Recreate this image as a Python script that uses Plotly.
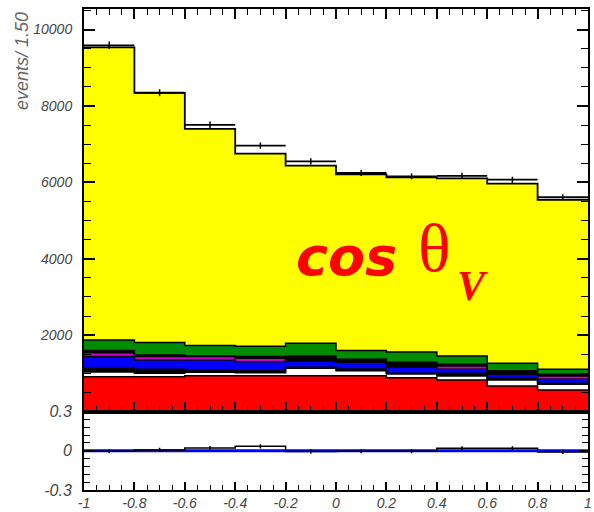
import plotly.graph_objects as go
import numpy as np

# ---- data ----
edges = [-1.0, -0.8, -0.6, -0.4, -0.2, 0.0, 0.2, 0.4, 0.6, 0.8, 1.0]
centers = [-0.9, -0.7, -0.5, -0.3, -0.1, 0.1, 0.3, 0.5, 0.7, 0.9]

red = [912, 912, 938, 938, 938, 938, 886, 826, 668, 564]
white = [123, 89, 89, 79, 195, 131, 97, 104, 158, 149]
black = [98, 105, 61, 52, 25, 45, 18, 71, 44, 26]
blue = [304, 244, 262, 236, 173, 176, 173, 105, 113, 105]
magenta = [104, 87, 87, 89, 0, 0, 0, 87, 0, 86]
dark = [53, 44, 18, 43, 124, 78, 116, 44, 86, 45]
green = [280, 323, 270, 271, 332, 226, 265, 218, 194, 131]
mc_total = [9530, 8340, 7400, 6750, 6435, 6210, 6130, 6105, 5964, 5544]

data = [9585, 8345, 7505, 6960, 6548, 6244, 6155, 6170, 6068, 5614]
data_err = [98, 91, 87, 83, 81, 79, 78, 78, 78, 75]

ratio = [-0.004, 0.006, 0.021, 0.034, -0.006, -0.004, -0.004, 0.019, 0.019, -0.009]
ratio_err = [0.016, 0.016, 0.016, 0.016, 0.016, 0.016, 0.016, 0.016, 0.016, 0.016]

main_yticks = [0, 2000, 4000, 6000, 8000, 10000]
main_ylabels = ["", "2000", "4000", "6000", "8000", "10000"]
low_yticks = [-0.3, 0.0, 0.3]
low_ylabels = ["-0.3", "0", "0.3"]
xticks = [-1, -0.8, -0.6, -0.4, -0.2, 0, 0.2, 0.4, 0.6, 0.8, 1]
xlabels = ["-1", "-0.8", "-0.6", "-0.4", "-0.2", "0", "0.2", "0.4", "0.6", "0.8", "1"]

layers = [
    ("red", red, "#FF0000"),
    ("white", white, "#FFFFFF"),
    ("black", black, "#000000"),
    ("blue", blue, "#0000FF"),
    ("magenta", magenta, "#CC00CC"),
    ("dark", dark, "#000000"),
    ("green", green, "#008C00"),
]

fig = go.Figure()

cum = np.zeros(len(red))
first = True
for name, vals, col in layers:
    cum = cum + np.array(vals, dtype=float)
    ys = list(cum) + [cum[-1]]
    fig.add_trace(go.Scatter(
        x=edges, y=ys, mode="lines", line=dict(shape="hv", color="black", width=1.5),
        fill="tozeroy" if first else "tonexty", fillcolor=col, name=name,
        showlegend=False, xaxis="x", yaxis="y"))
    first = False

# yellow: up to MC total
ys = list(mc_total) + [mc_total[-1]]
fig.add_trace(go.Scatter(
    x=edges, y=ys, mode="lines", line=dict(shape="hv", color="black", width=1.8),
    fill="tonexty", fillcolor="#FFFF00", showlegend=False, xaxis="x", yaxis="y"))

# data points
fig.add_trace(go.Scatter(
    x=centers, y=data, mode="markers", marker=dict(size=1, color="black"),
    error_x=dict(type="constant", value=0.1, width=0, thickness=1.8, color="black"),
    error_y=dict(type="data", array=data_err, width=0, thickness=1.5, color="black"),
    showlegend=False, xaxis="x", yaxis="y"))

# lower panel
fig.add_trace(go.Scatter(
    x=[-1, 1], y=[0, 0], mode="lines", line=dict(color="#0000FF", width=3),
    showlegend=False, xaxis="x2", yaxis="y2"))
fig.add_trace(go.Scatter(
    x=edges, y=list(ratio) + [ratio[-1]], mode="lines",
    line=dict(shape="hv", color="black", width=1.5),
    showlegend=False, xaxis="x2", yaxis="y2"))
fig.add_trace(go.Scatter(
    x=centers, y=ratio, mode="markers", marker=dict(size=1, color="black"),
    error_y=dict(type="data", array=ratio_err, width=0, thickness=1.5, color="black"),
    showlegend=False, xaxis="x2", yaxis="y2"))

split = (490 - 411.5) / 481.0
lab_font = dict(family="Liberation Sans", size=14, color="#444444", style="italic")
xlab_font = dict(family="Liberation Sans", size=16, color="#444444", style="italic")

fig.update_layout(
    width=594, height=512,
    margin=dict(l=84, r=6, t=9, b=22, autoexpand=False),
    paper_bgcolor="white", plot_bgcolor="white",
    xaxis=dict(domain=[0, 1], anchor="y", range=[-1, 1], tickvals=xticks,
               showticklabels=False, ticks="inside", ticklen=10, tickwidth=1.5,
               tickcolor="black", showline=True, linecolor="black", linewidth=2,
               mirror="allticks", showgrid=False, zeroline=False, automargin=False,
               minor=dict(dtick=0.05, tick0=-1, ticks="inside", ticklen=6,
                          tickwidth=1.2, tickcolor="black", showgrid=False)),
    yaxis=dict(domain=[split, 1], anchor="x", range=[0, 10537],
               tickvals=main_yticks, ticktext=main_ylabels, tickfont=lab_font,
               ticks="inside", ticklen=11, tickwidth=1.5, tickcolor="black",
               showline=True, linecolor="black", linewidth=2, mirror="allticks",
               showgrid=False, zeroline=False, automargin=False, ticklabelstandoff=7,
               minor=dict(dtick=500, tick0=0, ticks="inside", ticklen=7,
                          tickwidth=1.2, tickcolor="black", showgrid=False)),
    xaxis2=dict(domain=[0, 1], anchor="y2", range=[-1, 1], tickvals=xticks,
                ticktext=xlabels, tickfont=dict(family="Liberation Sans", size=14,
                                                color="#444444", style="italic"),
                ticks="inside", ticklen=8,
                tickwidth=1.5, tickcolor="black", showline=True, linecolor="black",
                linewidth=2, mirror=True, showgrid=False, zeroline=False,
                automargin=False, ticklabelstandoff=-1, ticklabeloverflow="allow",
                minor=dict(dtick=0.05, tick0=-1, ticks="inside", ticklen=5,
                           tickwidth=1.2, tickcolor="black", showgrid=False)),
    yaxis2=dict(domain=[0, split], anchor="x2", range=[-0.3, 0.3],
                tickvals=low_yticks, ticktext=low_ylabels, tickfont=xlab_font,
                ticks="inside", ticklen=9, tickwidth=1.5, tickcolor="black",
                showline=True, linecolor="black", linewidth=2, mirror="allticks",
                showgrid=False, zeroline=False, automargin=False, ticklabelstandoff=7,
                minor=dict(dtick=0.06, tick0=0, ticks="inside", ticklen=6,
                           tickwidth=1.2, tickcolor="black", showgrid=False)),
    annotations=[
        dict(text="events/ 1.50", xref="paper", yref="paper",
             x=(22 - 84) / 504.0, y=1.0, xanchor="center", yanchor="top",
             textangle=-90, showarrow=False, yshift=-1,
             font=dict(family="Liberation Sans", size=18, color="#666666", style="italic")),
        dict(text="<b><i>cos</i></b>", xref="paper", yref="paper",
             x=(294 - 84) / 504.0, y=(490 - 256) / 481.0, xanchor="left", yanchor="middle",
             showarrow=False,
             font=dict(family="DejaVu Sans", size=54, color="#FF0000")),
        dict(text="θ", xref="paper", yref="paper",
             x=(416 - 84) / 504.0, y=(490 - 248) / 481.0, xanchor="left", yanchor="middle",
             showarrow=False,
             font=dict(family="Liberation Serif", size=68, color="#FF0000")),
        dict(text="<b><i>V</i></b>", xref="paper", yref="paper",
             x=(455 - 84) / 504.0, y=(490 - 286) / 481.0, xanchor="left", yanchor="middle",
             showarrow=False,
             font=dict(family="Liberation Serif", size=42, color="#FF0000")),
    ],
)

fig.write_html("out.html")
